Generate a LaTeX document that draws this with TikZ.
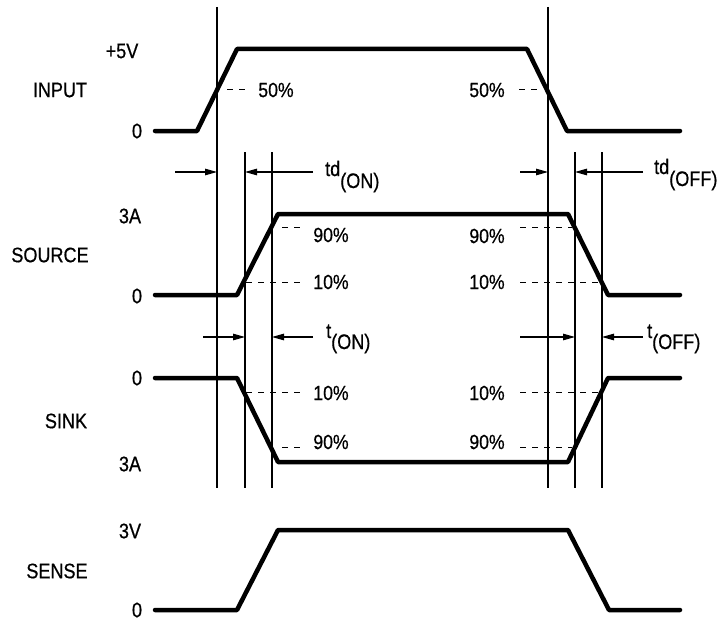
\documentclass[tikz,border=0pt]{standalone}
\usepackage{fontspec}
\setmainfont{Liberation Sans}[FakeStretch=0.86,FakeBold=0.6]
\usetikzlibrary{arrows.meta}
\begin{document}
\begin{tikzpicture}[x=1pt,y=-1pt,
  wave/.style={line width=4.5pt,line cap=round,line join=round},
  guide/.style={line width=1.1pt},
  lvl/.style={line width=1pt,dash pattern=on 6pt off 6pt},
  dim/.style={line width=1.1pt,-{Triangle[length=12pt,width=6.5pt]}},
  lbl/.style={inner sep=0pt,font=\fontsize{21}{24}\selectfont},
  pct/.style={inner sep=0pt,font=\fontsize{20.5}{24}\selectfont}]
\useasboundingbox (0,0) rectangle (727,623);

% waveforms
\draw[wave] (155,131)--(197,131)--(237,49)--(527,49)--(567,131)--(680,131);
\draw[wave] (155,295)--(237,295)--(278,214)--(568,214)--(608,295)--(680,295);
\draw[wave] (155,378)--(237,378)--(278,462)--(568,462)--(608,378)--(680,378);
\draw[wave] (155,610)--(237,610)--(278,530)--(568,530)--(609,610)--(680,610);

% guide lines
\coordinate (g1t) at (217,7);   \coordinate (g1b) at (217,488);
\coordinate (g2t) at (245,152); \coordinate (g2b) at (245,488);
\coordinate (g3t) at (272,152); \coordinate (g3b) at (272,488);
\coordinate (g4t) at (548,7);   \coordinate (g4b) at (548,488);
\coordinate (g5t) at (575,152); \coordinate (g5b) at (575,488);
\coordinate (g6t) at (602,152); \coordinate (g6b) at (602,488);
\foreach \g in {1,...,6} \draw[guide] (g\g t) -- (g\g b);

% dimension arrows
\coordinate (d1) at (175,172); \coordinate (d2) at (313,172);
\coordinate (d3) at (520,172); \coordinate (d4) at (643,172);
\coordinate (d5) at (203,337); \coordinate (d6) at (313,337);
\coordinate (d7) at (520,337); \coordinate (d8) at (643,337);
\draw[dim] (d1) -- (d1 -| g1t);
\draw[dim] (d2) -- (d2 -| g2t);
\draw[dim] (d3) -- (d3 -| g4t);
\draw[dim] (d4) -- (d4 -| g5t);
\draw[dim] (d5) -- (d5 -| g2t);
\draw[dim] (d6) -- (d6 -| g3t);
\draw[dim] (d7) -- (d7 -| g5t);
\draw[dim] (d8) -- (d8 -| g6t);

\node[lbl,anchor=base west] (tdon) at (325,176) {td\raisebox{-12pt}{(ON)}};
\node[lbl,anchor=base west] (tdoff) at (654,174) {td\raisebox{-12pt}{(OFF)}};
\node[lbl,anchor=base west] (ton) at (326,338) {t\raisebox{-11pt}{(ON)}};
\node[lbl,anchor=base west] (toff) at (647,338) {t\raisebox{-11pt}{(OFF)}};

% level dashes
\draw[lvl] (227,90) -- (247,90);
\draw[lvl] (282,227) -- (302,227);
\draw[lvl] (246,282) -- (302,282);
\draw[lvl] (246,392) -- (302,392);
\draw[lvl] (282,447) -- (302,447);
\draw[lvl] (519,90) -- (541,90);
\draw[lvl] (520,227) -- (572,227);
\draw[lvl] (520,282) -- (600,282);
\draw[lvl] (520,392) -- (600,392);
\draw[lvl] (520,447) -- (572,447);

% percentages
\node[pct] (p1) at (276,90) {50\%};
\node[pct] (p2) at (331,235) {90\%};
\node[pct] (p3) at (331,282) {10\%};
\node[pct] (p4) at (331,393) {10\%};
\node[pct] (p5) at (331,442) {90\%};
\node[pct] (p6) at (487,90) {50\%};
\node[pct] (p7) at (487,236) {90\%};
\node[pct] (p8) at (487,282) {10\%};
\node[pct] (p9) at (487,393) {10\%};
\node[pct] (p10) at (487,442) {90\%};

% left labels
\node[lbl] (v5) at (122,51) {+5V};
\node[lbl] (input) at (60,90) {INPUT};
\node[lbl] (z1) at (137,131) {0};
\node[lbl] (a1) at (130,216) {3A};
\node[lbl] (source) at (50,255) {SOURCE};
\node[lbl] (z2) at (137,296) {0};
\node[lbl] (z3) at (137,378) {0};
\node[lbl] (sink) at (66,421) {SINK};
\node[lbl] (a2) at (130,464) {3A};
\node[lbl] (v3) at (130,531) {3V};
\node[lbl] (sense) at (57,571) {SENSE};
\node[lbl] (z4) at (137,610) {0};
\end{tikzpicture}
\end{document}
